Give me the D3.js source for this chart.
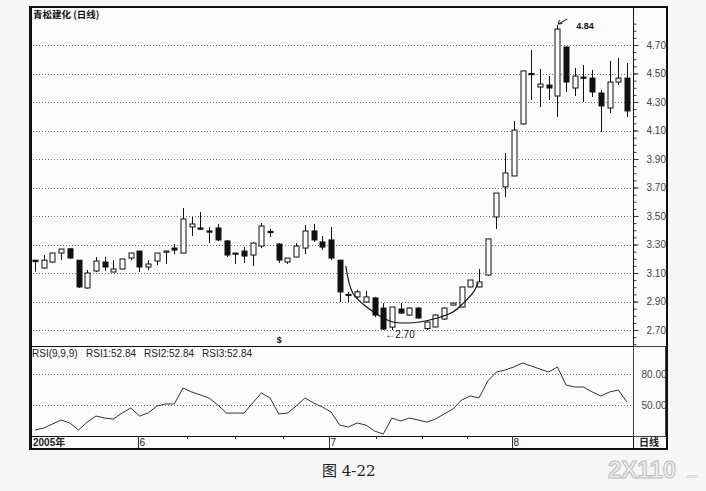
<!DOCTYPE html>
<html><head><meta charset="utf-8">
<script src="https://cdn.jsdelivr.net/npm/d3@7"></script>
<style>
html,body{margin:0;padding:0;background:#f6f6f6;}
svg{display:block;}
</style></head>
<body>
<svg id="c" width="706" height="491"></svg>
<script>
// ---- data ----
const opens  = [3.19,3.135,3.177,3.24,3.27,3.19,2.995,3.114,3.177,3.107,3.128,3.205,3.254,3.142,3.184,3.247,3.275,3.24,3.423,3.416,3.395,3.416,3.325,3.24,3.254,3.226,3.289,3.392,3.303,3.177,3.212,3.275,3.395,3.318,3.332,3.19,2.95,2.932,2.896,2.925,2.854,2.72,2.847,2.805,2.854,2.71,2.721,2.777,2.875,2.861,3.002,3.002,3.086,3.493,3.704,3.781,4.146,4.50,4.405,4.419,4.342,4.686,4.398,4.475,4.468,4.363,4.258,4.44,4.468];
const closes = [3.18,3.19,3.24,3.268,3.205,3.002,3.10,3.184,3.142,3.128,3.198,3.24,3.142,3.163,3.24,3.254,3.261,3.479,3.444,3.409,3.388,3.332,3.226,3.233,3.219,3.31,3.43,3.385,3.191,3.205,3.289,3.395,3.332,3.282,3.205,2.967,2.945,2.968,2.932,2.805,2.707,2.861,2.819,2.854,2.784,2.756,2.805,2.854,2.889,3.002,3.051,3.037,3.339,3.661,3.802,4.103,4.518,4.495,4.426,4.398,4.812,4.44,4.482,4.47,4.37,4.272,4.44,4.468,4.237];
const highs  = [3.19,3.226,3.24,3.27,3.27,3.19,3.121,3.212,3.212,3.19,3.20,3.24,3.254,3.19,3.24,3.254,3.303,3.556,3.493,3.528,3.423,3.444,3.33,3.24,3.282,3.317,3.451,3.409,3.31,3.205,3.31,3.437,3.444,3.36,3.423,3.19,2.967,2.982,2.975,2.932,2.889,2.861,2.889,2.86,2.86,2.76,2.81,2.86,2.89,3.0,3.05,3.128,3.34,3.66,3.942,4.167,4.52,4.665,4.532,4.482,4.84,4.69,4.539,4.56,4.525,4.384,4.588,4.609,4.574];
const lows   = [3.11,3.13,3.17,3.19,3.20,2.995,2.99,3.107,3.114,3.105,3.125,3.19,3.107,3.121,3.156,3.163,3.233,3.24,3.36,3.402,3.31,3.325,3.212,3.163,3.17,3.149,3.275,3.353,3.17,3.163,3.21,3.233,3.318,3.261,3.19,2.896,2.896,2.918,2.896,2.791,2.70,2.70,2.812,2.80,2.78,2.70,2.72,2.77,2.87,2.86,3.0,3.0,3.08,3.409,3.633,3.78,4.14,4.314,4.265,4.314,4.195,4.37,4.342,4.30,4.335,4.089,4.223,4.419,4.195];
const rsi    = [25.8,27.7,31.6,35.5,32.6,25.8,33.5,39.3,37.4,36.4,42.2,47.1,39.3,42.2,49.0,51.0,51.0,66.4,62.6,59.7,56.8,50.0,42.2,42.2,42.2,51.9,61.6,56.8,41.3,42.2,49.0,56.8,51.9,48.1,43.2,30.6,28.7,32.6,30.6,24.8,21.9,37.4,34.5,37.4,35.5,33.5,36.4,41.3,46.1,54.8,58.7,56.8,73.2,81.9,83.9,86.8,90.6,87.7,84.8,81.9,86.8,69.4,67.4,67.4,62.6,58.7,62.6,64.5,52.84];
const priceTicks = [2.70,2.90,3.10,3.30,3.50,3.70,3.90,4.10,4.30,4.50,4.70];
const rsiTicks = [50,80];
const monthIdx = [0,11.8,33.8,54.8];
const monthLabels = ["2005年","6","7","8"];
const weekTicks = [17.5,23,28.5,39.2,44.5,49.6];
// U-shaped annotation arc (index, price)
const arcIdx   = [35.7,36.5,38.1,40.0,41.1,42.7,44.2,46.2,48.0,49.2,50.3,50.9];
const arcPrice = [3.149,2.96,2.861,2.784,2.756,2.749,2.756,2.784,2.826,2.889,2.96,3.03];
const legend = ["RSI(9,9,9)","RSI1:52.84","RSI2:52.84","RSI3:52.84"];

// ---- layout ----
const svg = d3.select("#c");
const L = 30, T = 7, R = 667, B = 449, AX = 633, DIV = 346, DT = 436;
const x = d3.scaleLinear().domain([0, 68]).range([35, 627]);
const y = d3.scaleLinear().domain([2.70, 4.70]).range([330, 45]);
const yr = d3.scaleLinear().domain([50, 80]).range([405, 374]);

svg.append("rect").attr("x",L).attr("y",T).attr("width",R-L).attr("height",B-T).attr("fill","#fcfcfc");

// gridlines
const grid = svg.append("g").attr("stroke","#777").attr("stroke-dasharray","1,2").attr("stroke-width",1);
priceTicks.forEach(p => grid.append("line").attr("x1",L).attr("x2",AX).attr("y1",Math.round(y(p))+0.5).attr("y2",Math.round(y(p))+0.5));
rsiTicks.forEach(v => grid.append("line").attr("x1",L).attr("x2",AX).attr("y1",Math.round(yr(v))+0.5).attr("y2",Math.round(yr(v))+0.5));

// candles
const idx = d3.range(opens.length);
const cw = 5;
const cg = svg.append("g");
cg.selectAll("line.w").data(idx).join("line")
  .attr("x1", i => Math.round(x(i))+0.5).attr("x2", i => Math.round(x(i))+0.5)
  .attr("y1", i => y(highs[i])).attr("y2", i => y(lows[i]))
  .attr("stroke","#111").attr("stroke-width",1);
cg.selectAll("rect.b").data(idx).join("rect")
  .attr("x", i => Math.round(x(i)) - 2)
  .attr("y", i => y(Math.max(opens[i],closes[i])))
  .attr("width", cw)
  .attr("height", i => Math.max(1.2, Math.abs(y(opens[i]) - y(closes[i]))))
  .attr("fill", i => closes[i] >= opens[i] ? "#fcfcfc" : "#111")
  .attr("stroke","#111").attr("stroke-width",1);

// arc annotation
const arcLine = d3.line().x(d => x(d[0])).y(d => y(d[1])).curve(d3.curveCatmullRom);
svg.append("path").datum(arcIdx.map((a,k)=>[a,arcPrice[k]]))
  .attr("d", arcLine).attr("fill","none").attr("stroke","#111").attr("stroke-width",1.2);

// 4.84 label & arrow
const hiI = 60;
svg.append("line").attr("x1",x(hiI)+10).attr("y1",y(4.84)-6).attr("x2",x(hiI)+1).attr("y2",y(4.84)-1).attr("stroke","#111");
svg.append("path").attr("d",`M${x(hiI)+1},${y(4.84)-1} l4,-0.5 M${x(hiI)+1},${y(4.84)-1} l1,-4`).attr("stroke","#111").attr("fill","none");
svg.append("text").attr("x",x(hiI)+19).attr("y",y(4.84)+4).text("4.84")
  .attr("font-family","Liberation Sans, Arial").attr("font-size",9).attr("font-weight","bold").attr("fill","#111");
// 2.70 label & arrow
const loI = 40;
svg.append("text").attr("x",x(loI)+2).attr("y",y(2.70)+8).text("←2.70")
  .attr("font-family","Liberation Sans, Arial").attr("font-size",10).attr("fill","#111");
// $ marker
svg.append("text").attr("x",x(28)-2).attr("y",DIV-3).text("$")
  .attr("font-family","Liberation Sans, Arial").attr("font-size",9).attr("font-weight","bold").attr("fill","#111");

// RSI line
svg.append("path").datum(idx)
  .attr("d", d3.line().x(i => x(i)).y(i => yr(rsi[i])))
  .attr("fill","none").attr("stroke","#333").attr("stroke-width",1);

// frame lines
const fr = svg.append("g").attr("stroke","#111").attr("fill","none");
fr.append("line").attr("x1",L).attr("x2",AX).attr("y1",DIV+0.5).attr("y2",DIV+0.5);
fr.append("line").attr("x1",L).attr("x2",AX).attr("y1",DT+0.5).attr("y2",DT+0.5);
fr.append("line").attr("x1",AX+0.5).attr("x2",AX+0.5).attr("y1",T).attr("y2",B);
fr.append("rect").attr("x",AX+0.5).attr("y",DIV+0.5).attr("width",32).attr("height",DT-DIV).attr("stroke","#444");
fr.append("rect").attr("x",L).attr("y",T).attr("width",R-L).attr("height",B-T).attr("stroke-width",2);
fr.append("line").attr("x1",L+1).attr("x2",L+1).attr("y1",T).attr("y2",B).attr("stroke-width",2);

// price axis
const minor = d3.range(2.60, 4.86, 0.05);
const ma = svg.append("g").attr("transform",`translate(${AX+0.5},0)`)
  .call(d3.axisRight(y).tickValues(minor).tickFormat("").tickSize(3).tickSizeOuter(0));
ma.select(".domain").remove();
ma.selectAll("line").attr("stroke","#333");
const pa = svg.append("g").attr("transform",`translate(${AX+0.5},0)`)
  .call(d3.axisRight(y).tickValues(priceTicks).tickFormat(d3.format(".2f")).tickSize(5).tickPadding(8));
pa.select(".domain").remove();
pa.selectAll("line").attr("stroke","#333");
pa.selectAll("text").attr("font-family","Liberation Sans, Arial").attr("font-size",10).attr("fill","#444");
// rsi axis labels
const ra = svg.append("g").attr("transform",`translate(${AX+0.5},0)`)
  .call(d3.axisRight(yr).tickValues(rsiTicks).tickFormat(d3.format(".2f")).tickSize(0).tickPadding(8));
ra.select(".domain").remove();
ra.selectAll("text").attr("font-family","Liberation Sans, Arial").attr("font-size",10).attr("fill","#444");

// date axis
const da = svg.append("g");
monthIdx.forEach((m,k) => {
  const xx = Math.round(x(m))+0.5;
  if (k>0) da.append("line").attr("x1",xx).attr("x2",xx).attr("y1",DT).attr("y2",B-1).attr("stroke","#333");
  da.append("text").attr("x", k===0 ? L+3 : xx+1).attr("y",B-3).text(monthLabels[k])
    .attr("font-family", "Liberation Sans, Noto Sans CJK SC").attr("font-size",10)
    .attr("font-weight", k===0 ? "bold":"normal").attr("fill","#222");
});
weekTicks.forEach(w => {
  const xx = Math.round(x(w))+0.5;
  da.append("line").attr("x1",xx).attr("x2",xx).attr("y1",DT).attr("y2",DT+3).attr("stroke","#333");
});
svg.append("text").attr("x",AX+6).attr("y",B-3).text("日线")
  .attr("font-family","Noto Sans CJK SC").attr("font-size",10).attr("font-weight","bold").attr("fill","#222");

// titles
svg.append("text").attr("x",L+3).attr("y",T+11).text("青松建化 (日线)")
  .attr("font-family","Noto Sans CJK SC").attr("font-size",9.5).attr("font-weight","bold").attr("fill","#111");
const legX = [32,86,144,202];
legend.forEach((t,k) => svg.append("text").attr("x",legX[k]).attr("y",DIV+11).text(t)
  .attr("font-family","Liberation Sans, Arial").attr("font-size",10).attr("fill","#222"));

// caption & watermark
svg.append("text").attr("x",322).attr("y",476).text("图 4-22")
  .attr("font-family","DejaVu Serif, Noto Sans CJK SC").attr("font-size",15).attr("fill","#222");
svg.append("text").attr("x",608).attr("y",478).text("2X110")
  .attr("font-family","Liberation Sans, Arial").attr("font-size",24).attr("font-weight","bold")
  .attr("fill","#eeeeee").attr("stroke","#bdbdbd").attr("stroke-width",1);
svg.append("text").attr("x",685).attr("y",478).text(".com")
  .attr("font-family","Liberation Sans, Arial").attr("font-size",6).attr("fill","#bbb");
</script>
</body></html>
